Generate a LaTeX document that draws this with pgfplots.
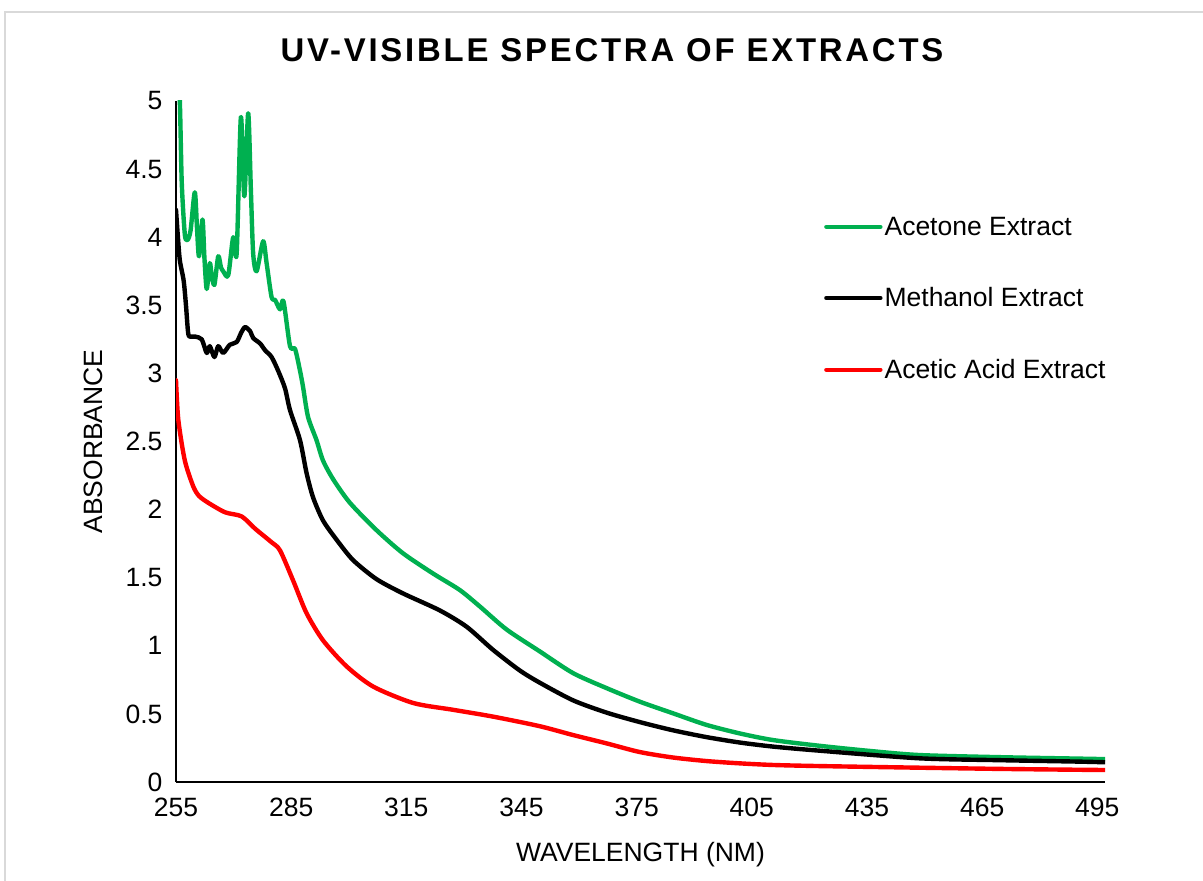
\documentclass[border=0pt]{standalone}
\usepackage{pgfplots}
\pgfplotsset{compat=1.18}
\usepackage{fontspec}
\setmainfont{Liberation Sans}
\definecolor{accgreen}{HTML}{00B050}
\definecolor{accred}{HTML}{FF0000}
\definecolor{bordergray}{HTML}{D9D9D9}
\begin{document}
\begin{tikzpicture}
\useasboundingbox (0,0) rectangle (1203bp,881bp);
\draw[bordergray, line width=1.5bp] (5bp,-20bp) -- (5bp,869bp) -- (1230bp,869bp);
\node[font=\fontsize{33}{40}\selectfont\bfseries\addfontfeature{LetterSpace=8.5}] at (612bp,831bp) {UV-VISIBLE SPECTRA OF EXTRACTS};
\begin{axis}[
  at={(176bp,99bp)}, anchor=south west,
  scale only axis, width=929bp, height=681bp,
  xmin=255, xmax=497, ymin=0, ymax=5,
  axis lines*=left,
  axis line style={black, line width=1.2bp},
  xtick={255,285,315,345,375,405,435,465,495},
  ytick={0,0.5,1,1.5,2,2.5,3,3.5,4,4.5,5},
  yticklabels={0,0.5,1,1.5,2,2.5,3,3.5,4,4.5,5},
  major tick length=0pt,
  /pgf/number format/assume math mode=true,
  tick label style={font=\fontsize{26.6}{32}\selectfont, text=black},
  xticklabel style={yshift=-12bp},
  yticklabel style={xshift=-10bp},
  label style={font=\fontsize{26.6}{32}\selectfont},
  xlabel={WAVELENGTH (NM)},
  ylabel={ABSORBANCE},
  xlabel style={at={(axis description cs:0.5,-0.107)}, anchor=center},
  ylabel style={at={(axis description cs:-0.0893,0.5)}, anchor=center, rotate=0},
  legend style={at={(axis description cs:0.6975,0.830)}, anchor=north west, draw=none, fill=none,
    inner sep=0pt, row sep=51bp, column sep=2bp,
    font=\fontsize{26.6}{32}\selectfont, nodes={inner sep=0pt}},
  legend cell align=left,
  legend image code/.code={\draw[#1] (0bp,0bp) -- (54bp,0bp);},
  every axis plot/.append style={line width=4.4bp, line join=round, line cap=round, smooth, tension=0.45},
]
\addplot[accgreen] coordinates {
(255,5.8) (256,5.0) (256.5,4.4) (257.3,4.02) (258,3.98) (258.8,4.05) (259.9,4.33) (260.5,4.05)
(261,3.86) (261.9,4.13) (262.4,3.85) (263,3.62) (263.8,3.81) (264.3,3.72) (265,3.65) (266,3.86)
(266.7,3.78) (267.3,3.75) (268.6,3.72) (269.9,4.00) (270.8,3.88) (271.9,4.88) (272.8,4.30)
(273.8,4.91) (274.5,4.35) (275.1,3.88) (276,3.75) (277.7,3.97) (278.6,3.81) (279.9,3.56)
(280.8,3.54) (282.1,3.47) (283,3.53) (284.7,3.20) (286,3.18) (287.3,3.02) (288.1,2.90)
(289.4,2.68) (291.6,2.51) (293.3,2.36) (296,2.22) (300.3,2.05) (307.2,1.85) (314.1,1.68)
(322,1.53) (328.9,1.41) (334.1,1.29) (341.1,1.12) (349.7,0.96) (358.4,0.80) (367.1,0.69)
(375.8,0.59) (384.4,0.505) (393.1,0.42) (401.8,0.357) (410.5,0.308) (422.6,0.266) (435,0.23)
(448.6,0.198) (470,0.182) (489.5,0.172) (497,0.168)
};
\addlegendentry{Acetone Extract}
\addplot[black] coordinates {
(255,4.2) (255.5,4.0) (256,3.83) (257,3.68) (257.6,3.5) (258.2,3.29) (259,3.27) (260,3.27)
(261.7,3.25) (263,3.15) (263.8,3.20) (265,3.12) (266,3.20) (267.3,3.15) (269,3.21) (270.8,3.23)
(272,3.30) (273,3.34) (274.3,3.31) (275.1,3.26) (276.9,3.22) (278.2,3.17) (279.9,3.12)
(281.6,3.02) (283.4,2.89) (284.7,2.73) (287.3,2.51) (289,2.27) (290.7,2.09) (293.3,1.92)
(296.8,1.78) (301.1,1.63) (307.2,1.49) (314.1,1.385) (323.7,1.26) (330.7,1.14) (337.6,0.97)
(344.5,0.82) (349.7,0.73) (358.4,0.60) (367.1,0.51) (375.8,0.44) (384.4,0.38) (393.1,0.33)
(401.8,0.29) (410.5,0.26) (422.6,0.23) (448.6,0.174) (470,0.16) (489.5,0.15) (497,0.145)
};
\addlegendentry{Methanol Extract}
\addplot[accred] coordinates {
(255,2.95) (255.6,2.66) (257.3,2.36) (259.5,2.17) (261,2.10) (263.4,2.05) (267.8,1.98)
(272.1,1.95) (275.6,1.86) (279.9,1.76) (282.1,1.70) (285.5,1.48) (289,1.24) (293.3,1.04)
(299.4,0.85) (306.4,0.70) (316.8,0.58) (327.2,0.53) (337.6,0.48) (349.7,0.41) (358.4,0.345)
(367.1,0.284) (375.8,0.22) (384.4,0.18) (393.1,0.154) (401.8,0.137) (410.5,0.125)
(422.6,0.117) (448.6,0.105) (470,0.096) (489.5,0.09) (497,0.088)
};
\addlegendentry{Acetic Acid Extract}
\end{axis}
\end{tikzpicture}
\end{document}
